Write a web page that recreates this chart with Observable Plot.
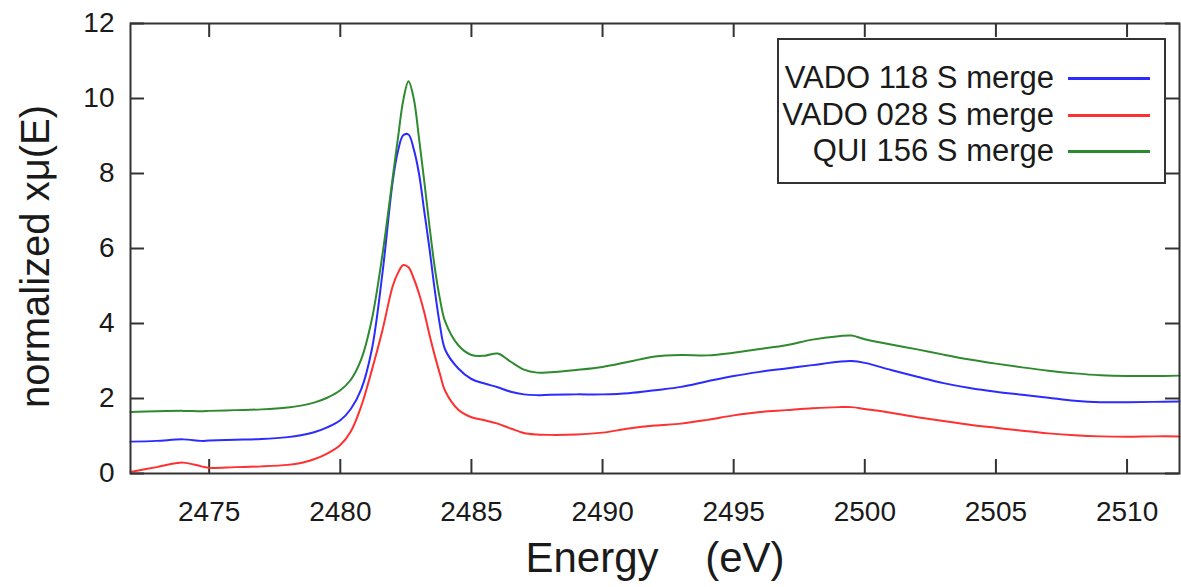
<!DOCTYPE html>
<html>
<head>
<meta charset="utf-8">
<script src="https://cdn.jsdelivr.net/npm/d3@7"></script>
<script src="https://cdn.jsdelivr.net/npm/@observablehq/plot@0.6"></script>
<style>
  html, body { margin: 0; padding: 0; background: #fff; }
  #wrap { position: relative; width: 1181px; height: 587px; font-family: "Liberation Sans", Arial, sans-serif; }
  #legend {
    position: absolute; left: 777px; top: 38px; width: 385px; height: 142px;
    border: 2px solid #333; background: #fff; box-sizing: content-box;
  }
  .row { position: absolute; left: 0; width: 385px; height: 36px; }
  .row span.lab { position: absolute; right: 110px; top: 0; line-height: 36px; font-size: 31px; color: #1a1a1a; white-space: nowrap; }
  .row span.sw { position: absolute; left: 289px; width: 82px; top: 17px; height: 0; border-top: 3px solid; }
</style>
</head>
<body>
<div id="wrap"></div>
<script>
// Sulfur K-edge XANES spectra, normalized absorption vs. photon energy
const energy = [2472, 2473, 2474, 2474.7, 2475, 2476, 2477, 2478, 2478.5, 2479, 2479.5, 2480, 2480.4, 2480.8,
  2481.2, 2481.6, 2482, 2482.2, 2482.4, 2482.6, 2482.8, 2483, 2483.2, 2483.4, 2483.6, 2483.8, 2484, 2484.5,
  2485, 2485.5, 2486, 2486.5, 2487, 2487.5, 2488, 2489, 2490, 2491, 2492, 2493, 2494, 2495, 2496, 2497,
  2498, 2499, 2499.5, 2500, 2501, 2502, 2503, 2504, 2505, 2506, 2507, 2508, 2509, 2510, 2511, 2512];

const vado118 = [0.85, 0.87, 0.91, 0.87, 0.88, 0.90, 0.92, 0.97, 1.02, 1.10, 1.23, 1.42, 1.72, 2.25,
  3.3, 5.3, 7.8, 8.6, 9.02, 9.04, 8.65, 8.0, 7.0, 6.0, 4.9, 3.95, 3.3, 2.8,
  2.52, 2.4, 2.3, 2.18, 2.11, 2.09, 2.10, 2.11, 2.11, 2.14, 2.22, 2.31, 2.46, 2.60, 2.71, 2.80,
  2.89, 2.98, 3.0, 2.95, 2.76, 2.58, 2.41, 2.28, 2.18, 2.10, 2.02, 1.94, 1.90, 1.90, 1.91, 1.92];

const vado028 = [0.04, 0.17, 0.29, 0.19, 0.15, 0.17, 0.19, 0.23, 0.28, 0.38, 0.53, 0.76, 1.12, 1.8,
  2.75, 3.8, 5.0, 5.35, 5.56, 5.5, 5.2, 4.8, 4.3, 3.7, 3.15, 2.65, 2.2, 1.7,
  1.5, 1.42, 1.33, 1.2, 1.08, 1.04, 1.03, 1.04, 1.09, 1.2, 1.28, 1.33, 1.43, 1.55, 1.64, 1.69,
  1.74, 1.77, 1.77, 1.72, 1.62, 1.50, 1.40, 1.30, 1.22, 1.14, 1.07, 1.02, 0.99, 0.98, 0.99, 0.99];

const qui156 = [1.64, 1.66, 1.67, 1.66, 1.67, 1.69, 1.71, 1.76, 1.81, 1.89, 2.02, 2.22, 2.50, 3.05,
  4.1, 5.8, 7.9, 8.95, 9.95, 10.46, 10.0, 8.95, 7.8, 6.6, 5.5, 4.65, 4.05, 3.42,
  3.16, 3.14, 3.2, 2.98, 2.77, 2.69, 2.70, 2.76, 2.84, 2.98, 3.12, 3.16, 3.15, 3.22, 3.32, 3.42,
  3.57, 3.66, 3.68, 3.58, 3.44, 3.31, 3.17, 3.04, 2.93, 2.83, 2.74, 2.67, 2.62, 2.60, 2.60, 2.61];

const seriesNames = ["VADO 118 S merge", "VADO 028 S merge", "QUI 156 S merge"];
const seriesColors = ["#2b2bff", "#ff3030", "#2e8a2e"];
const seriesValues = [vado118, vado028, qui156];

const xTicks = [2475, 2480, 2485, 2490, 2495, 2500, 2505, 2510];
const yTicks = [0, 2, 4, 6, 8, 10, 12];
const xLabel = "Energy\u00a0\u00a0\u00a0\u00a0(eV)";
const yLabel = "normalized xμ(E)";

const rows = seriesValues.flatMap((vals, i) =>
  energy.map((e, j) => ({ energy: e, value: vals[j], series: seriesNames[i] })));

const W = 1181, H = 587;
const mL = 130, mR = 2, mT = 23, mB = 114;
const plotW = W - mL - mR, plotH = H - mT - mB;
const tickLen = 14;
const ink = "#333";

const chart = Plot.plot({
  width: W, height: H,
  marginLeft: mL, marginRight: mR, marginTop: mT, marginBottom: mB,
  style: { fontFamily: "'Liberation Sans', Arial, sans-serif", background: "#fff", color: "#1a1a1a" },
  x: { domain: [2472, 2512] },
  y: { domain: [0, 12] },
  color: { domain: seriesNames, range: seriesColors },
  marks: [
    Plot.axisX({ ticks: xTicks, tickSize: 0, tickPadding: 28, fontSize: 28, tickFormat: d => String(d), label: null }),
    Plot.axisY({ ticks: yTicks, tickSize: 0, tickPadding: 16, fontSize: 28, label: null }),
    // inward ticks on all four sides
    Plot.tickX(xTicks, { x: d => d, insetTop: plotH - tickLen, stroke: ink, strokeWidth: 2 }),
    Plot.tickX(xTicks, { x: d => d, insetBottom: plotH - tickLen, stroke: ink, strokeWidth: 2 }),
    Plot.tickY(yTicks, { y: d => d, insetRight: plotW - tickLen, stroke: ink, strokeWidth: 2 }),
    Plot.tickY(yTicks, { y: d => d, insetLeft: plotW - tickLen, stroke: ink, strokeWidth: 2 }),
    Plot.line(rows, { x: "energy", y: "value", z: "series", stroke: "series", strokeWidth: 2, curve: "catmull-rom" }),
    Plot.frame({ stroke: ink, strokeWidth: 2 }),
    Plot.text([xLabel], { text: d => d, frameAnchor: "bottom", dy: 98, fontSize: 42, fill: "#1a1a1a" }),
    Plot.text([yLabel], { text: d => d, frameAnchor: "left", textAnchor: "middle", rotate: -90, dx: -94, dy: 8, fontSize: 40, fill: "#1a1a1a" })
  ]
});

const wrap = document.getElementById("wrap");
wrap.appendChild(chart);

// legend box inside the plot's upper right corner
const legend = document.createElement("div");
legend.id = "legend";
seriesNames.forEach((name, i) => {
  const row = document.createElement("div");
  row.className = "row";
  row.style.top = (20 + i * 36.5) + "px";
  const lab = document.createElement("span");
  lab.className = "lab";
  lab.textContent = name;
  const sw = document.createElement("span");
  sw.className = "sw";
  sw.style.borderTopColor = seriesColors[i];
  row.appendChild(lab);
  row.appendChild(sw);
  legend.appendChild(row);
});
wrap.appendChild(legend);
</script>
</body>
</html>
